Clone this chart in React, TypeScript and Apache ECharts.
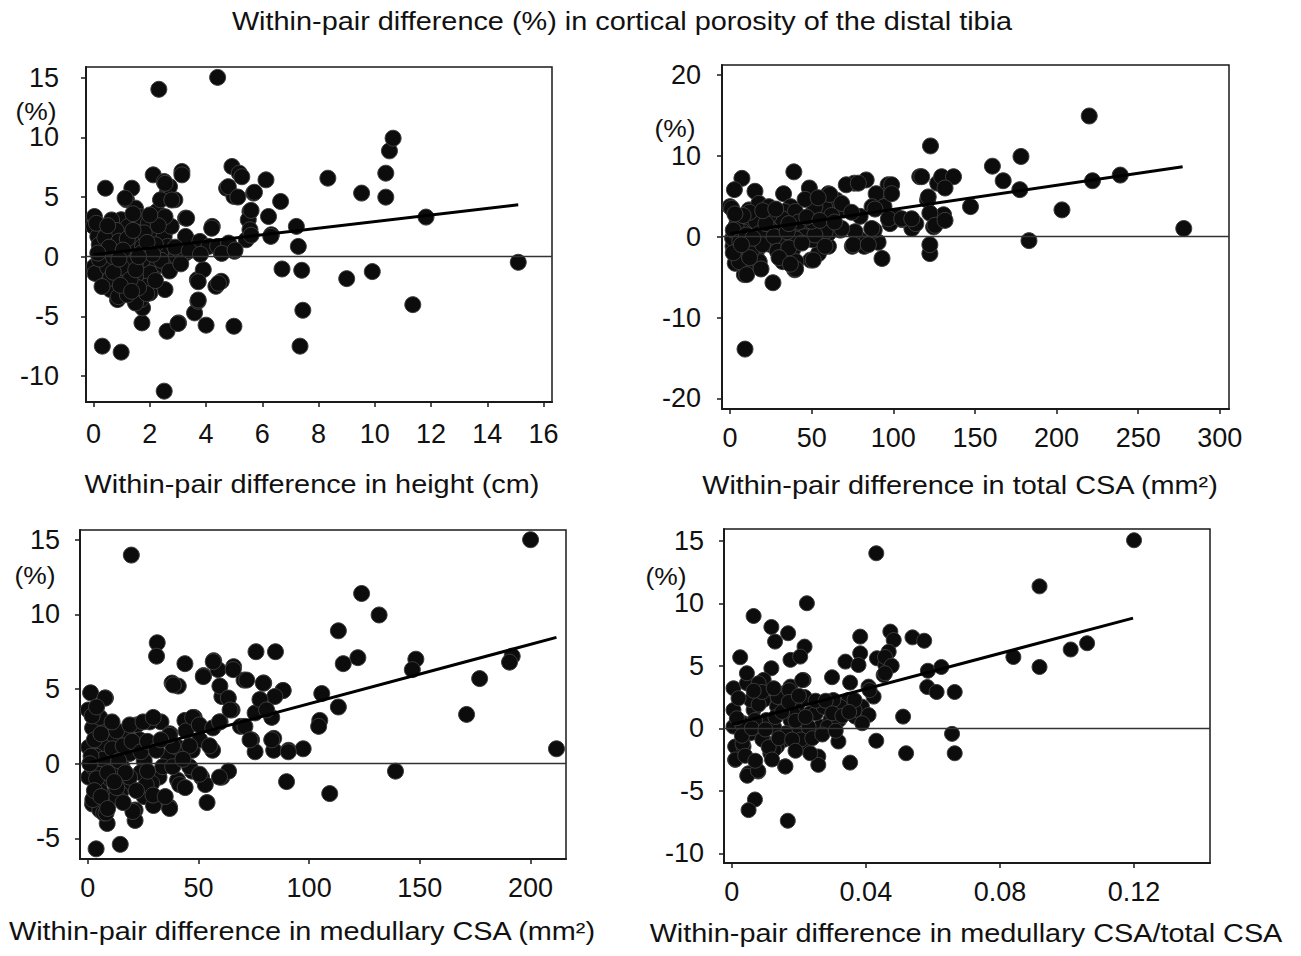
import React, { useEffect, useRef } from "react";
import * as echarts from "echarts";

const FONT = "'Liberation Sans', Arial, Helvetica, sans-serif";

// ---------- Titles ----------
const mainTitle = "Within-pair difference (%) in cortical porosity of the distal tibia";
const xTitles = [
  "Within-pair difference in height (cm)",
  "Within-pair difference in total CSA (mm\u00B2)",
  "Within-pair difference in medullary CSA (mm\u00B2)",
  "Within-pair difference in medullary CSA/total CSA",
];

// ---------- Tick values ----------
const xTicks1 = [0, 2, 4, 6, 8, 10, 12, 14, 16];
const yTicks1 = [-10, -5, 0, 5, 10, 15];
const xTicks2 = [0, 50, 100, 150, 200, 250, 300];
const yTicks2 = [-20, -10, 0, 10, 20];
const xTicks3 = [0, 50, 100, 150, 200];
const yTicks3 = [-5, 0, 5, 10, 15];
const xTicks4 = [0, 0.04, 0.08, 0.12];
const yTicks4 = [-10, -5, 0, 5, 10, 15];

// ---------- Data: [x, y] ----------
const heightPoints: number[][] = [
  [2.32,14.03],[4.41,15.03],[2.51,-11.27],[0.31,-7.5],[0.98,-8.0],[0.42,5.74],[4.99,-5.83],[4.0,-5.74],[3.02,-5.55],[2.61,-6.25],
  [3.59,-4.71],[3.71,-3.74],[3.69,-1.92],[3.9,-1.09],[4.35,-2.48],[4.54,-2.06],[2.54,-2.76],[1.72,-5.55],[1.74,-4.29],[1.68,-3.6],
  [2.12,6.86],[2.51,6.3],[3.14,7.14],[3.14,6.86],[1.36,5.74],[1.17,4.77],[1.49,4.07],[4.92,7.56],[5.18,7.0],[4.73,5.74],
  [4.99,5.05],[5.69,5.33],[6.13,6.44],[5.56,3.79],[5.5,3.1],[6.22,3.37],[6.32,1.84],[6.65,4.63],[7.21,2.54],[7.28,0.86],
  [6.7,-1.03],[7.4,-1.14],[7.44,-4.49],[7.34,-7.5],[8.33,6.58],[9.0,-1.84],[9.53,5.33],[9.91,-1.25],[10.39,7.0],[10.39,4.99],
  [10.52,8.87],[10.65,9.93],[11.35,-4.02],[11.82,3.32],[15.1,-0.47],[4.22,2.54],[4.54,0.31],[5.01,0.45],[5.43,1.42],[3.52,1.14],
  [3.27,3.23],[2.89,4.77],[2.63,5.47],[2.25,3.79],[1.93,2.82],[2.12,1.98],[2.51,1.7],[2.76,0.03],[3.02,0.59],[2.25,-0.81],
  [2.0,-1.37],[2.0,-3.04],[1.87,-2.48],[1.49,-1.65],[1.23,-2.48],[0.85,-3.04],[0.6,-2.76],[0.85,-3.6],[1.49,-3.88],[0.28,-1.23],
  [0.03,-0.81],[0.34,-1.92],[0.03,3.37],[0.0,2.54],[0.15,1.7],[0.34,0.86],[0.47,2.12],[0.73,2.82],[1.04,1.98],[1.11,1.0],
  [0.73,0.86],[1.23,0.17],[0.85,-0.53],[1.04,-1.37],[1.36,0.86],[1.55,1.7],[1.74,0.86],[1.74,-0.25],[1.49,-0.53],[0.6,-0.25],
  [0.41,0.31],[0.98,3.1],[1.23,2.54],[1.62,2.54],[3.27,1.7],[3.78,1.28],[4.1,0.86],[4.41,0.86],[2.63,0.86],[2.38,0.31],
  [3.27,0.31],[4.8,1.14],[2.76,2.54],[2.38,4.77],[2.7,5.88],[1.12,4.9],[1.62,3.37],[5.56,2.26],[2.54,6.15],[2.78,4.75],
  [0.64,3.08],[1.95,2.8],[3.31,3.22],[2.54,3.35],[4.2,2.38],[5.27,6.7],[4.79,5.87],[5.6,3.88],[5.13,5.0],[5.72,5.4],
  [5.6,1.8],[6.3,1.7],[3.72,-2.1],[4.44,-2.23],[3.72,-3.63],[3.0,-5.6],[2.48,-0.7],[4.56,0.28],[5.03,0.56],[1.89,-3.1],
  [0.88,-3.35],[0.05,-1.4],[0.5,-0.9],[0.9,0.2],[1.1,-1.8],[1.3,-0.6],[1.6,-2.6],[0.6,-1.8],[1.2,-3.2],[1.4,3.6],
  [0.8,2.2],[2.2,1.0],[2.4,-0.3],[2.9,0.8],[3.4,0.5],[3.8,0.2],[2.7,-1.2],[3.1,-0.6],[0.2,1.0],[0.1,2.8],
  [0.2,-0.2],[0.4,1.6],[0.5,2.6],[0.7,0.0],[0.9,1.3],[1.0,-0.9],[1.2,1.5],[1.3,-1.9],[1.5,-1.1],[1.7,0.3],
  [1.8,2.0],[1.9,1.2],[2.1,0.2],[2.2,-2.0],[0.3,-2.5],[0.7,-1.3],[0.95,-2.4],[1.35,-2.9],[1.6,0.0],[1.4,2.2],
  [0.55,0.8],[1.05,0.55],[2.3,2.6],[2.0,3.5],[0.15,0.3],[0.9,-0.2],
];

const totalCsaPoints: number[][] = [
  [220,14.9],[122.8,11.2],[9.2,-13.9],[7.3,7.2],[2.7,5.8],[0,3.7],[15.3,5.6],[39.1,8.0],[32.8,5.3],[48.6,6.0],
  [26.3,-5.7],[8.8,-4.7],[3.2,-3.3],[16.5,-3.3],[39.6,-4.1],[32.3,-3.1],[49.4,-2.9],[54.2,-2.1],[60.3,-1.2],[93.1,-2.7],
  [74.9,-1.2],[82.2,-1.2],[90.7,-0.7],[122.4,-2.1],[122.4,-1.0],[183.1,-0.5],[277.9,1.0],[203.3,3.3],[147.3,3.7],[130.8,2.7],
  [124.7,1.2],[111.4,1.0],[105.3,2.1],[98,1.6],[88.3,0.8],[96.8,6.4],[97.3,5.3],[83.4,7.0],[76.1,6.6],[71.2,6.4],
  [116.2,7.4],[127.2,6.6],[129.6,7.4],[136.9,7.4],[160.7,8.7],[167.3,6.9],[178.2,9.9],[177.5,5.8],[222,6.9],[239,7.6],
  [121,4.5],[122.4,2.9],[89.5,5.3],[87,3.7],[79.7,2.5],[70,3.3],[67.6,0.8],[65.2,4.5],[57.9,3.7],[60.3,5.3],
  [50.6,2.9],[50.6,-0.4],[54.2,0.8],[60.3,0.4],[45.7,1.2],[39.6,2.5],[40.8,0.4],[38.4,-1.6],[31.1,-1.2],[31.1,1.2],
  [28.7,2.5],[23.8,2.1],[21.4,0.8],[16.5,0],[14.1,2.1],[11.7,3.3],[8.0,1.2],[4.4,0.4],[1.9,-1.2],[9.2,-2.1],
  [16.5,-1.6],[25,-1.0],[4.4,2.1],[17.7,4.1],[37.2,3.7],[79.7,-0.4],[101.6,2.5],[10.5,-3.3],[5.6,-2.5],[23.8,3.7],
  [33.6,3.1],[45.7,0],[57.9,1.2],[94.3,3.7],[113.8,1.6],[1.0,3.5],[61.2,5.2],[52,3.7],[62.2,2.6],[68.4,4.1],
  [74.5,3.0],[88.8,3.4],[97,2.2],[105.2,2.2],[86.8,1.0],[76.6,0.6],[68.4,1.0],[58.2,0.6],[52,0.2],[50,1.9],
  [40,3.1],[32,2.2],[24,1.0],[15.9,1.9],[7.8,0.6],[1.6,-0.2],[5.7,-1.9],[5.7,-3.1],[15.9,-2.3],[17.9,-3.1],
  [34.3,-2.3],[40.4,-3.1],[40.4,-0.3],[32.2,-0.7],[24,-0.7],[13.9,-0.7],[3.7,1.3],[11.9,3.0],[24,2.6],[111.3,2.2],
  [125.6,1.4],[131.7,2.0],[131.7,6.0],[75.5,-1.0],[84.7,-1.0],[58.2,-1.2],[78.6,6.6],[99,6.4],[99,5.3],[117.4,7.4],
  [121.4,4.9],[40.2,-4.0],[51,-2.9],[10.2,-4.7],
  [2,0.8],[6,-0.6],[10,0.2],[13,-1.8],[18,0.4],[20,-1.0],[22,1.6],[27,0.0],[29,-1.8],[35,0.6],
  [36,-1.4],[42,1.8],[44,-0.8],[47,2.4],[12,-2.6],[8,2.6],[3,2.8],[20,3.2],[28,3.4],[36,1.6],
  [55,2.0],[64,1.8],[46,4.6],[54,4.8],[2,-2.0],[14,-0.2],[30,-2.6],[37,-3.4],[19,-4.0],[7,-1.0],
];

const medCsaPoints: number[][] = [
  [200,15.0],[19.7,13.97],[123.7,11.4],[131.6,9.96],[113.2,8.9],[31.4,8.1],[31.1,7.2],[76,7.5],[84.8,7.5],[122,7.1],
  [115.4,6.7],[148.2,7.0],[146.6,6.3],[191.7,7.2],[190.5,6.8],[43.9,6.7],[56.9,6.9],[65.9,6.5],[38.1,5.4],[40.9,5.2],
  [52.3,5.9],[58.9,6.3],[70.6,5.6],[79.5,5.4],[177,5.7],[1.3,4.75],[8,4.4],[88.1,4.9],[105.7,4.7],[113.2,3.8],
  [171.1,3.3],[83.1,3.1],[75.6,3.4],[60.6,4.5],[65.2,3.6],[104.8,2.9],[104.3,2.5],[0.3,3.6],[2.2,2.4],[8.8,2.3],
  [33.1,2.8],[28,2.8],[22.2,2.6],[48.1,3.1],[43.9,2.9],[59.8,2.8],[69,2.5],[74,1.6],[75.6,0.8],[84,1.7],
  [84,0.9],[90.7,0.9],[97.3,1.0],[211.7,1.0],[56.4,0.9],[47.2,0.9],[50.6,1.6],[37.2,2.0],[36.4,0.5],[40.6,1.1],
  [17.2,2.0],[12.2,1.6],[7.2,1.1],[0.5,1.1],[3.8,0.5],[10.5,0.5],[25.5,0.2],[18.9,0.7],[47.2,-0.5],[51.4,-0.9],
  [53.1,-1.4],[60.6,-0.9],[63.6,-0.5],[89.8,-1.2],[139,-0.5],[109.3,-2.0],[53.9,-2.6],[0.5,-0.9],[2.2,-2.7],[5.5,-3.1],
  [8.8,-4.0],[7.2,-3.3],[3.8,-5.7],[14.7,-5.4],[21.4,-3.1],[21.4,-3.8],[25.5,-2.2],[29.7,-2.8],[36.9,-2.9],[32.2,-0.9],
  [40.6,-1.1],[28.9,-1.3],[17.2,-1.5],[14.7,-2.0],[10.5,-0.6],[5.5,-1.3],[10.5,-2.2],[23.9,-0.6],[15.5,-0.2],[33.9,-0.2],
  [2.2,-0.2],[38.7,5.27],[52.2,5.83],[56.7,6.83],[65.7,6.3],[59.7,5.2],[63.5,4.4],[64.3,3.6],[71.8,5.6],[79.3,5.4],
  [88.3,4.9],[84.5,4.5],[77.8,4.3],[80.8,3.6],[71,2.5],[73.3,1.6],[83.1,1.6],[90.6,0.8],[7.8,4.4],[5.5,3.1],
  [13,2.2],[19,2.6],[25,2.8],[29.6,3.1],[23.5,1.6],[19,0.7],[13,0.7],[6.9,0.3],[1.5,0.5],[5.5,-0.7],
  [12.9,-0.4],[18.9,-0.9],[26.4,-1.4],[38.4,-0.2],[38.4,1.2],[36.9,1.9],[44.4,2.2],[47.4,3.1],[50.4,2.6],[56.5,2.4],
  [59.5,2.8],[55,1.2],[46,1.2],[46,-0.2],[50.5,-0.7],[59.5,-0.9],[41.5,-1.4],[37,-3.0],[29.5,-2.1],[20.4,-3.2],
  [2.3,-2.4],[8.3,-3.3],[13.1,-2.2],[13.1,-1.6],[5.5,-1.8],
  [1,0.0],[3,1.6],[4,-1.0],[6,2.0],[9,-0.6],[11,1.0],[14,0.2],[16,1.2],[17,-0.6],[20,1.5],
  [22,-1.8],[24,0.8],[27,1.5],[3,-1.8],[6,-2.2],[9,-3.0],[12,-1.2],[2,3.2],[4,3.8],[16,-2.6],
  [11,2.8],[27,-0.5],[31,0.9],[33,1.6],[43,0.3],[44,-1.6],[35,-2.2],
];

const ratioPoints: number[][] = [
  [0.12,15.04],[0.0431,14.0],[0.0918,11.35],[0.0224,10.0],[0.0065,8.98],[0.0118,8.1],[0.0129,6.93],[0.0168,7.6],[0.0217,6.53],[0.0175,5.47],
  [0.0204,5.73],[0.0025,5.68],[0.0118,4.8],[0.0383,7.33],[0.0473,7.73],[0.0483,7.06],[0.0539,7.27],[0.0574,7.0],[0.0299,4.08],[0.0353,3.65],
  [0.0339,5.33],[0.0383,5.99],[0.0378,5.06],[0.0433,5.6],[0.0458,5.06],[0.0468,6.12],[0.0453,4.26],[0.0408,3.33],[0.0423,2.53],[0.0388,1.73],
  [0.0348,2.26],[0.0368,0.93],[0.0408,1.06],[0.0511,0.93],[0.0431,-1.0],[0.052,-2.0],[0.0657,-0.45],[0.0665,-2.0],[0.0353,-2.75],[0.0318,-1.06],
  [0.0258,-2.26],[0.0258,-2.93],[0.0159,-3.06],[0.0079,-3.46],[0.005,-3.6],[0.001,-2.53],[0.0069,-5.7],[0.005,-6.55],[0.0167,-7.4],[0.001,-1.46],
  [0.0005,0.13],[0.0005,1.46],[0.0005,3.2],[0.0045,3.6],[0.0045,4.4],[0.0095,3.87],[0.0095,2.27],[0.0065,1.47],[0.0035,0.4],[0.0055,-0.4],
  [0.0035,-1.46],[0.0095,-0.93],[0.0115,0.13],[0.0135,1.73],[0.0155,2.8],[0.0175,3.33],[0.0214,3.86],[0.0194,1.73],[0.0175,0.66],[0.0155,-0.93],
  [0.0135,-1.46],[0.0194,-0.4],[0.0234,-0.13],[0.0234,1.2],[0.0274,1.73],[0.0264,0.13],[0.0294,0.66],[0.0323,1.73],[0.0303,2.26],[0.0214,-1.46],
  [0.0234,-2.0],[0.0115,-2.0],[0.0585,4.6],[0.0625,4.9],[0.0583,3.3],[0.0611,2.9],[0.0665,2.9],[0.084,5.7],[0.0918,4.9],[0.1011,6.3],
  [0.106,6.8],[0.0457,5.7],[0.0477,5.0],[0.0457,4.4],[0.0411,3.05],[0.0366,1.45],[0.0389,0.4],[0.0366,2.25],[0.008,3.6],[0.0057,2.25],
  [0.0103,0.66],[0.0091,-0.9],[0.0126,-1.7],[0.0137,2.5],[0.0171,3.05],[0.021,3.85],[0.0217,2.5],[0.0183,1.2],[0.016,-0.4],[0.0206,-0.9],
  [0.0229,0.1],[0.0251,1.2],[0.0286,0.1],[0.0274,1.7],[0.032,0.66],[0.0069,0.66],[0.0029,0.4],[0.0126,0.1],[0.016,-3.05],[0.0046,-3.8],
  [0.0078,-3.4],[0.0011,-2.5],[0.0032,-1.2],
  [0.002,2.4],[0.003,-0.6],[0.006,0.0],[0.008,1.9],[0.009,2.9],[0.010,-0.1],[0.011,-1.5],[0.013,0.9],[0.014,-0.8],[0.015,1.3],
  [0.017,2.1],[0.018,-0.9],[0.019,0.6],[0.02,2.6],[0.022,0.9],[0.024,-0.8],[0.025,2.2],[0.027,-0.5],[0.028,2.2],[0.030,1.2],
  [0.031,-0.2],[0.033,1.0],[0.035,1.3],[0.004,-2.2],[0.007,-2.6],[0.012,-2.5],[0.019,-1.8],[0.0015,0.8],[0.0065,3.0],[0.0125,3.2],
];

// ---------- Regression lines (end points) ----------
const heightFit = [[0, 0.17], [15.1, 4.35]];
const totalCsaFit = [[0, 0.38], [277.2, 8.64]];
const medCsaFit = [[0, 0.04], [211.7, 8.46]];
const ratioFit = [[0, 0.3], [0.1197, 8.81]];

// ---------- Layout ----------
const panels = [
  { left: 86, top: 67, width: 466, height: 335, xMin: -0.27, xMax: 16.3, yMin: -12.18, yMax: 15.9,
    xTicks: xTicks1, yTicks: yTicks1, xMargin: 18, yMargin: 27, pts: heightPoints, fit: heightFit, size: 16,
    xFmt: (v: number) => String(v) },
  { left: 722, top: 65, width: 507, height: 344, xMin: -4.9, xMax: 305.6, yMin: -21.3, yMax: 21.2,
    xTicks: xTicks2, yTicks: yTicks2, xMargin: 15, yMargin: 21, pts: totalCsaPoints, fit: totalCsaFit, size: 16,
    xFmt: (v: number) => String(v) },
  { left: 80, top: 530, width: 486, height: 329, xMin: -3.48, xMax: 216, yMin: -6.38, yMax: 15.65,
    xTicks: xTicks3, yTicks: yTicks3, xMargin: 15, yMargin: 20, pts: medCsaPoints, fit: medCsaFit, size: 16,
    xFmt: (v: number) => String(v) },
  { left: 724, top: 529, width: 486, height: 334, xMin: -0.00233, xMax: 0.14266, yMin: -10.78, yMax: 15.94,
    xTicks: xTicks4, yTicks: yTicks4, xMargin: 15, yMargin: 20, pts: ratioPoints, fit: ratioFit, size: 15,
    xFmt: (v: number) => (v === 0 ? "0" : v.toFixed(2)) },
];

const titlePos = [
  { x: 312, y: 484 },
  { x: 960, y: 485 },
  { x: 302, y: 931 },
  { x: 966, y: 933 },
];
const pctPos = [
  { x: 36, y: 111 },
  { x: 675, y: 128 },
  { x: 35, y: 575 },
  { x: 666, y: 576 },
];

function stretchedText(text: string, x: number, y: number, size: number, sx: number) {
  return {
    type: "text", x, y, scaleX: sx, scaleY: 1,
    style: { text, x: 0, y: 0, textAlign: "center", textVerticalAlign: "middle", fontSize: size, fontFamily: FONT, fill: "#111" },
  };
}

export default function App() {
  const ref = useRef<HTMLDivElement>(null);
  useEffect(() => {
    if (!ref.current) return;
    const chart = echarts.init(ref.current, undefined, { renderer: "svg" });
    const axisColor = "#1a1a1a";
    const grid = panels.map((p) => ({
      left: p.left, top: p.top, width: p.width, height: p.height,
      show: true, borderColor: axisColor, borderWidth: 1.5, containLabel: false, outerBoundsMode: "none",
    }));
    const xAxis = panels.map((p, i) => ({
      type: "value", gridIndex: i, min: p.xMin, max: p.xMax,
      axisLine: { show: true, onZero: false, lineStyle: { color: axisColor, width: 2 } },
      axisTick: { show: true, length: 5, customValues: p.xTicks, lineStyle: { color: axisColor, width: 1.5 } },
      axisLabel: { customValues: p.xTicks, margin: p.xMargin, fontSize: 27, color: "#111", fontFamily: FONT, formatter: p.xFmt },
      splitLine: { show: false },
    }));
    const yAxis = panels.map((p, i) => ({
      type: "value", gridIndex: i, min: p.yMin, max: p.yMax,
      axisLine: { show: true, onZero: false, lineStyle: { color: axisColor, width: 2 } },
      axisTick: { show: true, length: 5, customValues: p.yTicks, lineStyle: { color: axisColor, width: 1.5 } },
      axisLabel: { customValues: p.yTicks, margin: p.yMargin, fontSize: 27, color: "#111", fontFamily: FONT },
      splitLine: { show: false },
    }));
    const series: any[] = [];
    panels.forEach((p, i) => {
      series.push({
        type: "scatter", xAxisIndex: i, yAxisIndex: i, data: p.pts, symbol: "circle", symbolSize: p.size,
        itemStyle: { color: "#0c0c0c", borderColor: "#3c3c3c", borderWidth: 1, opacity: 1 },
        z: 2,
        markLine: {
          silent: true, symbol: ["none", "none"], label: { show: false },
          lineStyle: { color: "#333", width: 1.3, type: "solid" },
          data: [{ yAxis: 0 }],
        },
      });
      series.push({
        type: "line", xAxisIndex: i, yAxisIndex: i, data: p.fit, symbol: "none", showSymbol: false,
        lineStyle: { color: "#000", width: 3 }, z: 3,
      });
    });
    const graphic: any[] = [stretchedText(mainTitle, 622, 21, 26, 1.11)];
    xTitles.forEach((t, i) => {
      graphic.push(stretchedText(t, titlePos[i].x, titlePos[i].y, 26, 1.11));
      graphic.push(stretchedText("(%)", pctPos[i].x, pctPos[i].y, 24, 1.1));
    });

    chart.setOption({
      animation: false,
      backgroundColor: "#ffffff",
      grid, xAxis, yAxis, series, graphic,
    });
    return () => chart.dispose();
  }, []);
  return <div ref={ref} style={{ position: "absolute", left: 0, top: 0, width: 1301, height: 956 }} />;
}
